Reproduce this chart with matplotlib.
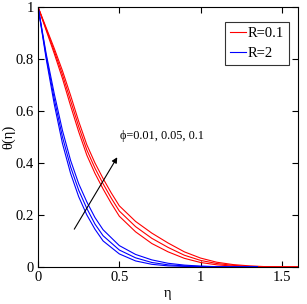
import numpy as np
import matplotlib
matplotlib.use("Agg")
import matplotlib.pyplot as plt

plt.rcParams['font.family'] = ['Liberation Serif', 'DejaVu Serif']

# theta(eta), three phi values per R
eta_red = [0, 0.05, 0.1, 0.15, 0.2, 0.25, 0.3, 0.35, 0.4, 0.45, 0.5, 0.6, 0.7,
           0.8, 0.9, 1.0, 1.1, 1.2, 1.3, 1.4, 1.5, 1.6]
red_phi001 = [1, 0.91, 0.82, 0.725, 0.62, 0.52, 0.43, 0.36, 0.30, 0.245, 0.195,
              0.135, 0.09, 0.058, 0.033, 0.017, 0.008, 0.003, 0.001, 0, 0, 0]
red_phi005 = [1, 0.915, 0.83, 0.74, 0.64, 0.54, 0.45, 0.38, 0.32, 0.265, 0.215,
              0.155, 0.11, 0.075, 0.045, 0.025, 0.013, 0.006, 0.002, 0.001, 0, 0]
red_phi01 = [1, 0.92, 0.84, 0.755, 0.66, 0.56, 0.47, 0.40, 0.34, 0.285, 0.235,
             0.175, 0.13, 0.092, 0.058, 0.034, 0.018, 0.009, 0.004, 0.001, 0, 0]

eta_blue = [0, 0.05, 0.1, 0.15, 0.2, 0.25, 0.3, 0.35, 0.4, 0.5, 0.6, 0.7, 0.8,
            0.9, 1.0, 1.1, 1.2, 1.35]
blue_phi001 = [1, 0.8, 0.625, 0.475, 0.36, 0.27, 0.2, 0.145, 0.1, 0.05, 0.023,
               0.01, 0.004, 0.002, 0.001, 0, 0, 0]
blue_phi005 = [1, 0.81, 0.645, 0.5, 0.385, 0.295, 0.225, 0.165, 0.12, 0.065,
               0.035, 0.017, 0.008, 0.004, 0.002, 0.001, 0, 0]
blue_phi01 = [1, 0.82, 0.665, 0.525, 0.41, 0.32, 0.25, 0.19, 0.143, 0.082,
              0.048, 0.027, 0.014, 0.007, 0.003, 0.001, 0, 0]

fig = plt.figure(figsize=(3.07, 3.04), dpi=100)
ax = fig.add_axes([0.124, 0.122, 0.847, 0.855])

lw = 0.8
ax.plot(eta_red, red_phi001, color='red', lw=lw, label='R=0.1')
ax.plot(eta_red, red_phi005, color='red', lw=lw)
ax.plot(eta_red, red_phi01, color='red', lw=lw)
ax.plot(eta_blue, blue_phi001, color='blue', lw=lw, label='R=2')
ax.plot(eta_blue, blue_phi005, color='blue', lw=lw)
ax.plot(eta_blue, blue_phi01, color='blue', lw=lw)

ax.annotate('', xy=(0.496, 0.431), xytext=(0.214, 0.136),
            arrowprops=dict(arrowstyle='-|>', color='black', lw=0.8,
                            mutation_scale=8))
ax.text(0.505, 0.504, 'ϕ=0.01, 0.05, 0.1', fontsize=8.8, va='center', ha='left')

ax.set_xlim(0, 1.6)
ax.set_ylim(0, 1)
ax.set_xticks([0, 0.5, 1, 1.5])
ax.set_xticklabels(['0', '0.5', '1', '1.5'])
ax.set_yticks([0, 0.2, 0.4, 0.6, 0.8, 1])
ax.set_yticklabels(['0', '0.2', '0.4', '0.6', '0.8', '1'])
ax.tick_params(direction='in', top=True, right=True, labelsize=10.5,
               length=4, width=0.8, pad=3)
for s in ax.spines.values():
    s.set_linewidth(0.8)

ax.set_xlabel('η', fontsize=10.5, labelpad=2)
ax.set_ylabel('θ(η)', fontsize=10.5, labelpad=0)

leg = ax.legend(loc='upper right', bbox_to_anchor=(0.965, 0.942),
                fontsize=10.5, frameon=True, fancybox=False,
                edgecolor='black', handlelength=1.1, handletextpad=0.1,
                borderpad=0.35, labelspacing=0.45, borderaxespad=0)
leg.get_frame().set_linewidth(0.8)

fig.savefig('out.png', dpi=100)
